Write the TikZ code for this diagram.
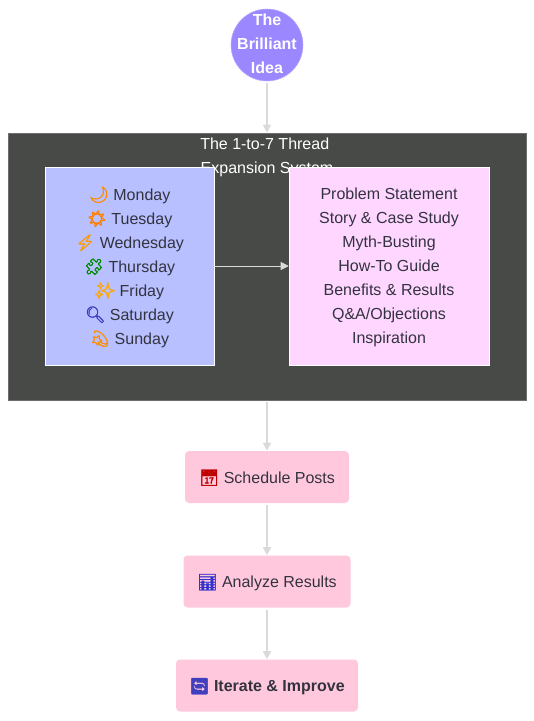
\documentclass[tikz,border=0pt]{standalone}
\usepackage{fontspec}
\usepackage{xcolor}
\setmainfont{Liberation Sans}
\newfontfamily\emojifont[FakeBold=2.5]{Noto Emoji}
\usetikzlibrary{arrows.meta,positioning}
\definecolor{tfidea}   {HTML}{9B87FF}
\definecolor{tfgroup}  {HTML}{484A48}
\definecolor{tfdays}   {HTML}{B8C0FF}
\definecolor{tfposts}  {HTML}{FFD6FF}
\definecolor{tfstep}   {HTML}{FFC8DD}
\definecolor{tfink}    {HTML}{333340}
\definecolor{tfedge}   {HTML}{DADADA}
\newcommand{\tficon}[2]{\textcolor{#1}{\emojifont #2}}
\tikzset{
  tfbase/.style={font=\fontsize{12}{18}\selectfont, align=center, inner sep=0pt,
                 text=tfink, text depth=1pt},
  tfidea/.style={tfbase, circle, fill=tfidea, draw=tfidea!70!white, text=white,
                 font=\fontsize{12}{18}\selectfont\bfseries, inner sep=-6pt,
                 text depth=1.5pt, minimum size=54pt},
  tfgroup/.style={draw=tfgroup!80!white, fill=tfgroup, minimum width=388.5pt,
                  minimum height=200.25pt},
  tftitle/.style={tfbase, text=white},
  tfcol/.style={tfbase, draw=white, minimum height=148.5pt},
  tfdays/.style={tfcol, fill=tfdays, minimum width=126.75pt},
  tfposts/.style={tfcol, fill=tfposts, minimum width=150pt},
  tfstep/.style={tfbase, fill=tfstep, rounded corners=3pt, minimum height=39pt},
  tfedge/.style={-{Triangle[length=6pt,width=6pt]}, draw=tfedge, line width=1.2pt,
                 shorten <=1.5pt},
  tfinner/.style={-{Triangle[length=6pt,width=6pt]}, draw=tfedge, line width=0.6pt},
}
\begin{document}
\begin{tikzpicture}[x=0.75pt,y=-0.75pt]
  \useasboundingbox (0,0) rectangle (534,721);
  \node[tfidea] (idea) at (267,45) {The\\Brilliant\\Idea};
  \node[tfgroup] (group) at (267,266.5) {};
  \node[tftitle] (title) at (267,156) {The 1-to-7 Thread\hspace*{3.4pt}\\Expansion System};
  \node[tfdays] (days) at (129.5,266) {%
    \tficon{orange!90!yellow}{🌙} Monday\\
    \tficon{orange}{☀} Tuesday\\
    \tficon{orange!80!yellow}{⚡} Wednesday\\
    \tficon{green!55!black}{🧩} Thursday\\
    \tficon{orange!70!yellow}{✨} Friday\\
    \tficon{blue!50!gray}{🔍} Saturday\\
    \tficon{orange!90!yellow}{💫} Sunday};
  \node[tfposts] (posts) at (389,266) {Problem Statement\\Story \& Case Study\\Myth-Busting\\
    How-To Guide\\Benefits \& Results\\Q\&A/Objections\\Inspiration};
  \node[tfstep, minimum width=123pt] (schedule) at (267,477) {\tficon{red!75!black}{📅} Schedule Posts};
  \node[tfstep, minimum width=125.25pt] (analyze) at (267,581.5) {\tficon{blue!60!gray}{📊} Analyze Results};
  \node[tfstep, minimum width=136.5pt] (iterate) at (267,685.5) {\tficon{blue!50!gray}{🔄} \textbf{Iterate \& Improve}};
  \draw[tfedge] (idea)--(group);
  \draw[tfinner] (days)--(posts);
  \draw[tfedge] (group)--(schedule);
  \draw[tfedge] (schedule)--(analyze);
  \draw[tfedge] (analyze)--(iterate);
\end{tikzpicture}
\end{document}
